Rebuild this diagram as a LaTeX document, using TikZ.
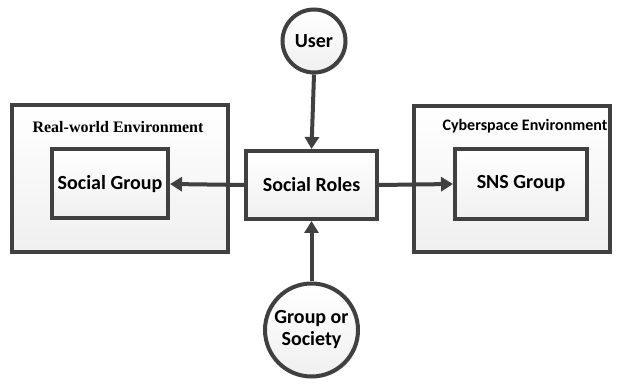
\documentclass[tikz,border=0pt]{standalone}
\usepackage{fontspec}
\setmainfont{Carlito}
\newfontfamily\serifbold{Liberation Serif}
\usetikzlibrary{arrows.meta,shadows}
\definecolor{edge}{HTML}{404040}
\tikzset{
  boxstyle/.style={draw=edge, line width=4pt, top color=white, bottom color=gray!12,
    drop shadow={shadow xshift=1.8pt, shadow yshift=-1.8pt, opacity=0.25, fill=gray}},
  rectbox/.style={boxstyle, rectangle, inner sep=0pt, font=\bfseries\fontsize{20}{22}\selectfont},
  circbox/.style={boxstyle, circle, inner sep=0pt, align=center, font=\bfseries\fontsize{20}{22}\selectfont},
  conn/.style={draw=edge, line width=4pt, -{Triangle[length=12pt,width=14pt]}},
}
\begin{document}
\begin{tikzpicture}[x=1pt,y=-1pt]
\useasboundingbox (0,0) rectangle (622,385);
% outer environment boxes
\node[rectbox, minimum width=216pt, minimum height=147pt] (realenv) at (120,178.5) {};
\node[rectbox, minimum width=196pt, minimum height=146pt] (cyberenv) at (512,179) {};
\node[font=\serifbold\bfseries\fontsize{16}{18}\selectfont] (reallbl) at (118,127) {Real-world Environment};
\node[font=\bfseries\fontsize{16}{18}\selectfont] (cyberlbl) at (525,126) {Cyberspace Environment};
% inner boxes
\node[rectbox, minimum width=116pt, minimum height=69pt] (social) at (110,184) {Social Group};
\node[rectbox, minimum width=132pt, minimum height=70pt] (sns) at (521,184) {SNS Group};
\node[rectbox, minimum width=131pt, minimum height=68pt] (roles) at (311.5,185) {Social Roles};
% circles
\node[circbox, minimum size=63pt] (user) at (314,41) {User};
\node[circbox, minimum size=93pt] (group) at (311.5,330) {Group or\\Society};
% connectors
\draw[conn] (user.south) -- (roles.north);
\draw[conn] (group.north) -- (roles.south);
\draw[conn] (roles.west) -- (social.east);
\draw[conn] (roles.east) -- (sns.west);
\end{tikzpicture}
\end{document}
